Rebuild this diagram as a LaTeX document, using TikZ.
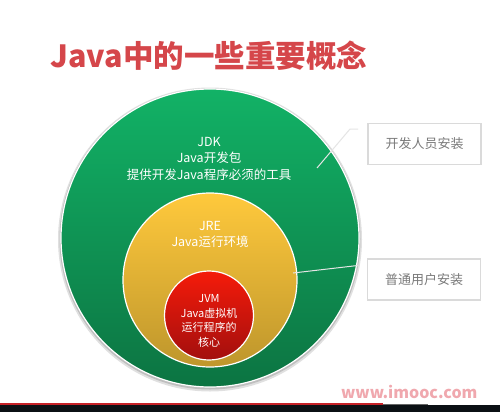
\documentclass[tikz,border=0pt]{standalone}
\usepackage{fontspec}
\setmainfont{Noto Sans CJK SC}
\usetikzlibrary{positioning, calc}
\definecolor{jdktop}{HTML}{12B266}
\definecolor{jdkbot}{HTML}{0C7442}
\definecolor{jretop}{HTML}{FFC93C}
\definecolor{jrebot}{HTML}{BE962C}
\definecolor{jvmtop}{HTML}{F51B0A}
\definecolor{jvmbot}{HTML}{A30F0E}
\definecolor{titlered}{HTML}{D5464A}
\definecolor{boxgray}{HTML}{DADADA}
\definecolor{labelgray}{HTML}{7A7A7A}
\definecolor{markpink}{HTML}{F0A8AE}
\definecolor{barblack}{HTML}{0B1014}
\definecolor{barred}{HTML}{C62127}

\tikzset{
  ring/.style={circle, inner sep=0pt, draw=white, line width=1.2pt},
  ringtext/.style={text=white, align=center, font=\fontsize{12.5}{16.5}\selectfont},
  smalltext/.style={text=white, align=center, font=\fontsize{11}{14.5}\selectfont},
  installbox/.style={draw=boxgray, line width=1.6pt, fill=white, minimum width=113pt,
    minimum height=41pt, text=labelgray, font=\fontsize{13}{15}\selectfont},
  callout/.style={draw=white!90!black, line width=1pt}
}

\begin{document}
\begin{tikzpicture}[x=1pt, y=-1pt]

% Background
\fill[white] (0,0) rectangle (500,412);
\useasboundingbox (0,0) rectangle (500,412);

% Title
\node[anchor=west, text=titlered, font=\fontsize{30.5}{32}\selectfont\bfseries] (title) at (47,55.5) {Java中的一些重要概念};

%% Nested circles
% shadow of outer circle
\fill[black!12] (210,239.5) circle (152);
\fill[black!25] (210,239) circle (150.5);

\node[ring, minimum size=298pt, top color=jdktop, bottom color=jdkbot] (jdk) at (210,238) {};
\node[ring, minimum size=174pt, top color=jretop, bottom color=jrebot] (jre) at (210,280) {};
\node[ring, minimum size=89pt, top color=jvmtop, bottom color=jvmbot] (jvm) at (209,315.5) {};

% Circle texts
\node[ringtext] (jdktext) at (209,158.5) {JDK\\Java开发包\\提供开发Java程序必须的工具};
\node[ringtext] (jretext) at (210,234.5) {JRE\\Java运行环境};
\node[smalltext] (jvmtext) at (209,321) {JVM\\Java虚拟机\\运行程序的\\核心};

%% Install boxes on the right
\node[installbox] (devbox) at (424.5,144) {开发人员安装};
\node[installbox] (userbox) at (424,279.5) {普通用户安装};

% Callout lines
\coordinate (devtip) at (317,168);
\coordinate (devend) at ($(devbox.west)+(-9,-15)$);
\draw[callout] (devtip) -- (350,129) -- (devend);

\coordinate (usertip) at (293,273);
\coordinate (userend) at ($(userbox.west)+(-9,-14)$);
\draw[callout] (usertip) -- (userend);

% Watermark
\node[anchor=east, text=markpink, font=\fontsize{16}{18}\selectfont\bfseries] (mark) at (481,392) {www.imooc.com};

% Player bar at the bottom
\fill[barblack] (0,405) rectangle (500,412);
\fill[barred] (0,403.3) rectangle (383,405.3);
\fill[black!60] (383,403.8) rectangle (428,405.3);

\end{tikzpicture}
\end{document}
